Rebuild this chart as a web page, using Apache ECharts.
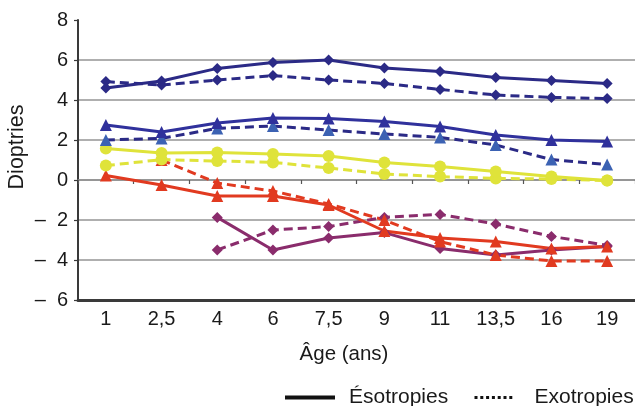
<!DOCTYPE html>
<html>
<head>
<meta charset="utf-8">
<script src="https://cdn.jsdelivr.net/npm/echarts@6/dist/echarts.min.js"></script>
<style>
  html, body { margin: 0; padding: 0; background: #fff; }
  #chart { width: 635px; height: 406px; }
</style>
</head>
<body>
<div id="chart"></div>
<script>
// Age groups (years)
const ages = ['1', '2,5', '4', '6', '7,5', '9', '11', '13,5', '16', '19'];

// Mean refraction (dioptres) by group; solid = esotropia, dashed = exotropia
const esoHighHyperopia = [4.6, 4.95, 5.58, 5.87, 6.0, 5.6, 5.42, 5.12, 4.98, 4.83];
const exoHighHyperopia = [4.92, 4.75, 5.0, 5.22, 5.0, 4.83, 4.53, 4.25, 4.13, 4.07];
const esoHyperopia = [2.75, 2.4, 2.85, 3.1, 3.08, 2.92, 2.67, 2.25, 2.0, 1.93];
const exoHyperopia = [2.0, 2.08, 2.58, 2.7, 2.5, 2.3, 2.13, 1.75, 1.02, 0.77];
const esoLowHyperopia = [1.58, 1.35, 1.38, 1.3, 1.2, 0.87, 0.67, 0.43, 0.17, -0.02];
const exoLowHyperopia = [0.72, 1.02, 0.95, 0.88, 0.6, 0.3, 0.17, 0.08, 0.05, -0.03];
const esoMyopia = [0.22, -0.25, -0.8, -0.8, -1.25, -2.55, -2.9, -3.08, -3.42, -3.33];
const exoMyopia = [null, 1.0, -0.15, -0.55, -1.2, -2.0, -3.08, -3.75, -4.05, -4.05];
const esoHighMyopia = [null, null, -1.87, -3.5, -2.9, -2.63, -3.42, -3.75, -3.5, -3.33];
const exoHighMyopia = [null, null, -3.5, -2.5, -2.33, -1.87, -1.72, -2.2, -2.82, -3.27];

// Value axis ticks and their printed labels
const yTicks = [-6, -4, -2, 0, 2, 4, 6, 8];
const yTickLabels = ['\u2013  6', '\u2013  4', '\u2013  2', '0', '2', '4', '6', '8'];

const legendNames = ['\u00c9sotropies', 'Exotropies'];
const xTitle = '\u00c2ge (ans)';
const yTitle = 'Dioptries';

const FONT = "'Liberation Sans', Arial, sans-serif";
const TXT = '#1a1a1a';

function lineSeries(data, color, dashed, symbol, size, symbolColor) {
  return {
    type: 'line',
    xAxisIndex: 0,
    yAxisIndex: 0,
    data: data,
    symbol: symbol,
    symbolSize: size,
    connectNulls: false,
    lineStyle: { color: color, width: 3, type: dashed ? [9, 5] : 'solid' },
    itemStyle: { color: symbolColor || color },
    emphasis: { disabled: true },
    animation: false,
    z: 3
  };
}

const NAVY = '#2b2a86';
const BLUE = '#30319c';
const LIGHTBLUE = '#3c62b3';
const YELLOW = '#dfe33a';
const RED = '#e13a20';
const PURPLE = '#8a2c6c';

function legendBox(name, left, iconWidth, textGap) {
  return {
    data: [name],
    left: left,
    top: 382,
    itemWidth: iconWidth,
    itemHeight: 14,
    selectedMode: false,
    itemStyle: { opacity: 0 },
    lineStyle: { width: 'inherit' },
    textStyle: { color: TXT, fontSize: 21, fontFamily: FONT, padding: [0, 0, 0, textGap] }
  };
}

const chart = echarts.init(document.getElementById('chart'), null, { renderer: 'canvas' });

chart.setOption({
  animation: false,
  textStyle: { fontFamily: FONT },
  grid: [
    { left: 78, right: -2, top: 20, bottom: 106, containLabel: false },
    // upper band ending at the zero line, carries the tick marks drawn on 0
    { left: 78, right: -2, top: 20, height: 160, containLabel: false }
  ],
  xAxis: [
    {
      type: 'category',
      gridIndex: 0,
      data: ages,
      boundaryGap: true,
      axisLine: { onZero: false, lineStyle: { color: '#3a3a3a', width: 3 } },
      axisTick: { show: false },
      axisLabel: { color: TXT, fontSize: 20, fontFamily: FONT, margin: 9 },
      splitLine: { show: false }
    },
    {
      type: 'category',
      gridIndex: 1,
      data: ages,
      boundaryGap: true,
      axisLine: { onZero: false, lineStyle: { color: '#8e8e8e', width: 1.5 } },
      axisTick: { show: true, length: 4, lineStyle: { color: '#555', width: 1.2 } },
      axisLabel: { show: false },
      splitLine: { show: false }
    }
  ],
  yAxis: [
    {
      type: 'value',
      gridIndex: 0,
      min: -6,
      max: 8,
      interval: 2,
      axisLine: { show: true, lineStyle: { color: '#3a3a3a', width: 2 } },
      axisTick: { show: true, length: 4, lineStyle: { color: '#3a3a3a', width: 1.2 } },
      axisLabel: {
        color: TXT,
        fontSize: 20,
        fontFamily: FONT,
        margin: 10,
        formatter: function (v) {
          const i = yTicks.indexOf(v);
          return i < 0 ? '' : yTickLabels[i];
        }
      },
      splitLine: {
        show: true,
        showMinLine: false,
        showMaxLine: false,
        lineStyle: { color: '#959595', width: 1.5 }
      }
    },
    {
      type: 'value',
      gridIndex: 1,
      min: 0,
      max: 8,
      show: false
    }
  ],
  legend: [
    legendBox(legendNames[0], 278, 50, 9),
    legendBox(legendNames[1], 468, 38, 17)
  ],
  graphic: [
    {
      type: 'text',
      x: 17,
      y: 147,
      rotation: Math.PI / 2,
      style: {
        text: yTitle,
        fill: TXT,
        font: '21.5px ' + FONT,
        align: 'center',
        verticalAlign: 'middle'
      }
    },
    {
      type: 'text',
      x: 344,
      y: 354,
      style: {
        text: xTitle,
        fill: TXT,
        font: '20.5px ' + FONT,
        align: 'center',
        verticalAlign: 'middle'
      }
    }
  ],
  series: [
    lineSeries(exoHighMyopia, PURPLE, true, 'diamond', 11),
    lineSeries(esoHighMyopia, PURPLE, false, 'diamond', 11),
    lineSeries(exoMyopia, RED, true, 'triangle', 12),
    lineSeries(esoMyopia, RED, false, 'triangle', 12),
    lineSeries(exoLowHyperopia, YELLOW, true, 'circle', 12),
    lineSeries(esoLowHyperopia, YELLOW, false, 'circle', 12),
    lineSeries(exoHyperopia, NAVY, true, 'triangle', 12, LIGHTBLUE),
    lineSeries(esoHyperopia, BLUE, false, 'triangle', 12),
    lineSeries(exoHighHyperopia, NAVY, true, 'diamond', 11),
    lineSeries(esoHighHyperopia, NAVY, false, 'diamond', 11),
    // legend keys: line styles only
    {
      name: legendNames[0],
      type: 'line',
      data: [],
      symbol: 'none',
      itemStyle: { color: '#111' },
      lineStyle: { color: '#111', width: 4, type: 'solid' }
    },
    {
      name: legendNames[1],
      type: 'line',
      data: [],
      symbol: 'none',
      itemStyle: { color: '#111' },
      lineStyle: { color: '#111', width: 3, type: [3, 2.8] }
    }
  ]
});
</script>
</body>
</html>
